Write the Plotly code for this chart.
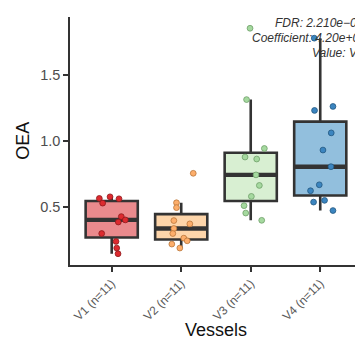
import numpy as np
import plotly.graph_objects as go

# ---- data ----
categories = ["V1", "V2", "V3", "V4"]
tick_labels = ["V1 (n=11)", "V2 (n=11)", "V3 (n=11)", "V4 (n=11)"]

v1_values = [0.562, 0.526, 0.574, 0.559, 0.424, 0.383, 0.399, 0.296, 0.236, 0.186, 0.143]
v2_values = [0.529, 0.492, 0.752, 0.394, 0.369, 0.334, 0.296, 0.261, 0.241, 0.216, 0.186]
v3_values = [1.85, 1.31, 0.94, 0.875, 0.86, 0.74, 0.66, 0.577, 0.507, 0.451, 0.396]
v4_values = [1.775, 1.258, 1.228, 1.058, 0.928, 0.802, 0.665, 0.62, 0.547, 0.534, 0.47]

# horizontal jitter of each point (category units)
v1_jitter = [-0.178, -0.130, -0.024, 0.105, 0.138, 0.095, 0.196, -0.144, 0.062, 0.072, 0.091]
v2_jitter = [-0.068, -0.068, 0.173, -0.106, 0.124, -0.106, -0.121, 0.037, 0.086, -0.135, -0.020]
v3_jitter = [-0.010, -0.060, 0.196, -0.082, 0.086, 0.076, 0.124, 0.009, -0.096, -0.072, 0.158]
v4_jitter = [-0.086, 0.183, -0.082, 0.158, 0.039, 0.154, -0.014, -0.140, 0.062, -0.096, 0.183]

annotation_lines = ["FDR: 2.210e\u221206", "Coefficient: 4.20e+01", "Value: Vessels"]

# ---- styles ----
fills = ["#EA8A8D", "#FDD5AA", "#D8EFD2", "#92BFDD"]
point_fill = ["#DD2A2F", "#FDAE6B", "#A5D99F", "#3B85C0"]
point_edge = ["#8E1A1D", "#B9763A", "#6E9E68", "#22577F"]
dark = "#333333"
FONT = "Liberation Sans, Arial, sans-serif"

groups = [v1_values, v2_values, v3_values, v4_values]
jitters = [v1_jitter, v2_jitter, v3_jitter, v4_jitter]

fig = go.Figure()
box_w = 0.75
for i, (vals, jit) in enumerate(zip(groups, jitters)):
    pos = i + 1
    arr = np.array(vals)
    q1, med, q3 = np.percentile(arr, [25, 50, 75])
    iqr = q3 - q1
    upper = arr[arr <= q3 + 1.5 * iqr].max()
    lower = arr[arr >= q1 - 1.5 * iqr].min()
    fig.add_trace(go.Box(
        x=[pos], q1=[q1], median=[med], q3=[q3],
        lowerfence=[lower], upperfence=[upper],
        width=box_w, fillcolor=fills[i],
        line=dict(color=dark, width=2.6),
        whiskerwidth=0, showlegend=False, hoverinfo="skip",
    ))
    fig.add_trace(go.Scatter(
        x=[pos - box_w / 2, pos + box_w / 2], y=[med, med], mode="lines",
        line=dict(color=dark, width=4.4), showlegend=False, hoverinfo="skip",
    ))
    fig.add_trace(go.Scatter(
        x=[pos + j for j in jit], y=vals, mode="markers",
        marker=dict(size=5.8, color=point_fill[i],
                    line=dict(color=point_edge[i], width=0.8)),
        showlegend=False, hoverinfo="skip",
    ))

all_vals = np.concatenate([np.array(g) for g in groups])
span = all_vals.max() - all_vals.min()
y_range = [all_vals.min() - 0.05 * span, all_vals.max() + 0.05 * span]

fig.update_layout(
    width=355, height=340,
    margin=dict(l=70, r=0, t=17, b=75, autoexpand=False),
    paper_bgcolor="white", plot_bgcolor="white",
    font=dict(family=FONT, color="#4D4D4D"),
    xaxis=dict(
        range=[0.4, 4.5], tickmode="array", tickvals=[1, 2, 3, 4], ticktext=tick_labels,
        tickangle=-45, tickfont=dict(size=12, color="#5A5A5A"),
        showline=True, linecolor=dark, linewidth=1.6,
        ticks="outside", ticklen=5, tickwidth=1.6, tickcolor=dark,
        showgrid=False, zeroline=False,
    ),
    yaxis=dict(
        range=y_range, tickvals=[0.5, 1.0, 1.5], tickformat=".1f",
        tickfont=dict(size=14.5, color="#4D4D4D"),
        showline=True, linecolor=dark, linewidth=1.6,
        ticks="outside", ticklen=5, tickwidth=1.6, tickcolor=dark,
        showgrid=False, zeroline=False,
    ),
)

# axis titles
fig.add_annotation(text="OEA", textangle=-90, xref="paper", yref="paper",
                   x=-0.166, y=0.5, xanchor="center", yanchor="middle",
                   showarrow=False, font=dict(size=18, color="#111111", family=FONT))
fig.add_annotation(text="Vessels", xref="x", yref="paper", x=2.5, y=-0.262,
                   xanchor="center", yanchor="middle", showarrow=False,
                   font=dict(size=18, color="#111111", family=FONT))

# statistics text (clipped by the right edge like the reference)
ann_x = [0.714, 0.631, 0.842]
ann_y = [0.975, 0.917, 0.853]
for txt, ax, ay in zip(annotation_lines, ann_x, ann_y):
    fig.add_annotation(text="<i>" + txt + "</i>", xref="paper", yref="paper",
                       x=ax, y=ay, xanchor="left", yanchor="middle", showarrow=False,
                       font=dict(size=12, color="#333333", family=FONT))

fig.write_html(
    "out.html",
    config={"displayModeBar": False},
    post_script=(
        "document.body.style.margin='0';"
        "document.body.style.overflow='hidden';"
        "document.documentElement.style.overflow='hidden';"
    ),
)
